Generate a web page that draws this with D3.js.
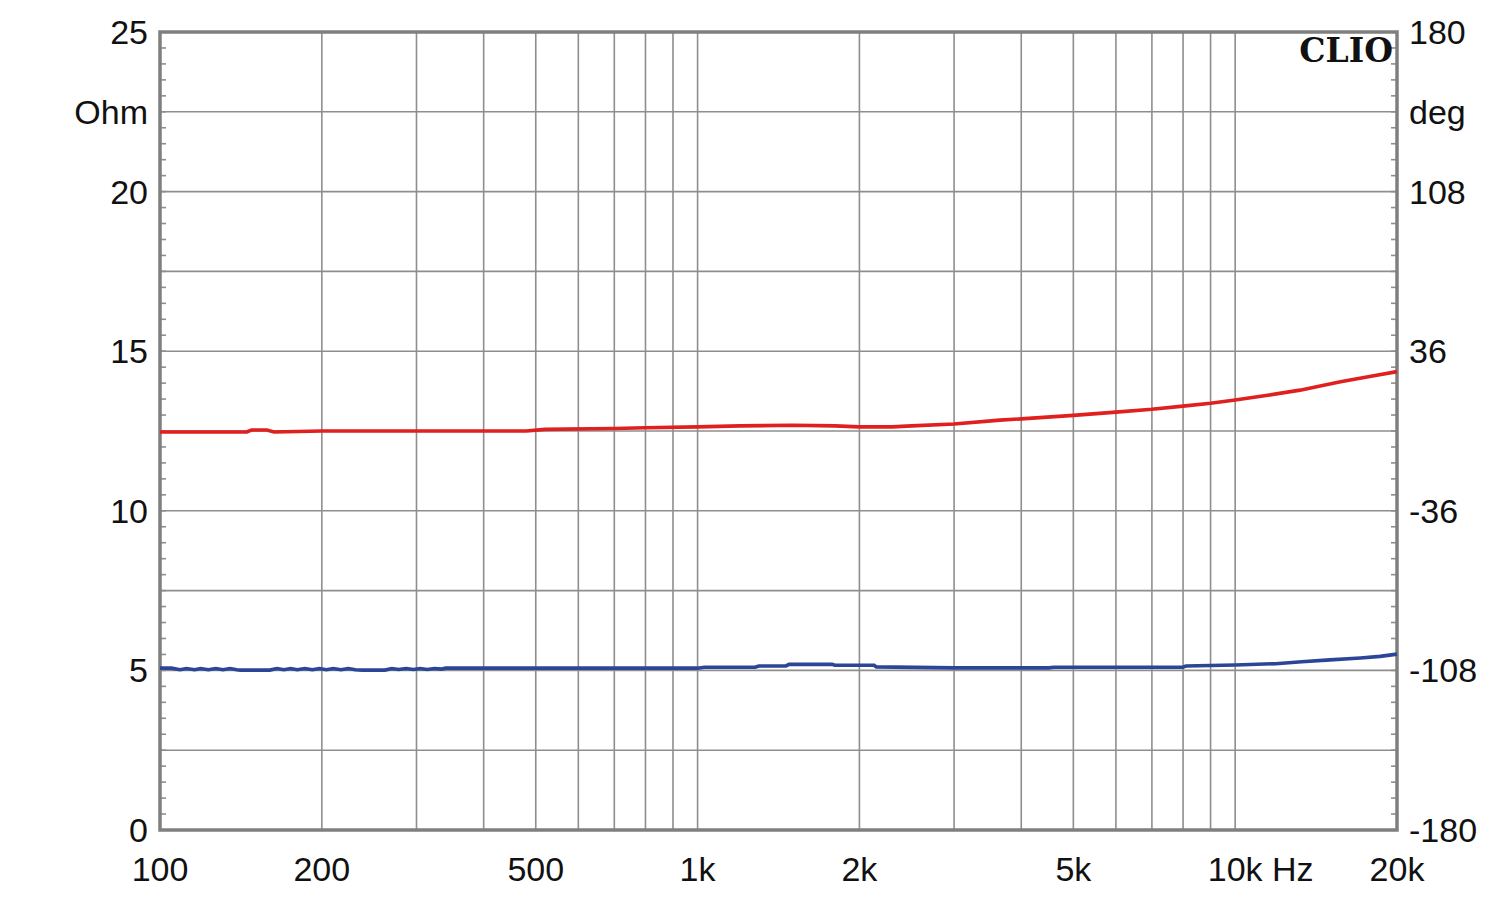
<!DOCTYPE html>
<html><head><meta charset="utf-8">
<script src="https://cdn.jsdelivr.net/npm/d3@7"></script>
<style>body{margin:0;background:#fff}svg{display:block}</style>
</head><body>
<svg id="c" width="1500" height="907"></svg>
<script>
const xTickFreqs = [100,200,500,1000,2000,5000,10000,20000];
const xTickLabels = ["100","200","500","1k","2k","5k","10k","20k"];
const xGridFreqs = [200,300,400,500,600,700,800,900,1000,2000,3000,4000,5000,6000,7000,8000,9000,10000];
const yLeftTicks = [0,5,10,15,20,25];
const yRightLabels = ["-180","-108","-36","36","108","180"];
const yGrid = [2.5,5,7.5,10,12.5,15,17.5,20,22.5];

const redFreq = [100,145,148,158,163,200,300,480,520,700,800,1000,1200,1500,1800,2000,2300,2500,3000,3650,4000,5000,6000,7000,8000,9000,10000,11500,13200,15700,18000,20000];
const redOhm  = [12.47,12.47,12.53,12.53,12.47,12.5,12.5,12.5,12.55,12.58,12.6,12.63,12.66,12.68,12.66,12.63,12.63,12.66,12.72,12.84,12.88,12.99,13.09,13.18,13.28,13.37,13.47,13.62,13.78,14.04,14.22,14.36];

const blueFreq = [100,105,109,112,116,119,123,127,131,135,139,141,160,165,170,175,180,186,192,198,204,210,217,224,231,238,262,270,278,287,296,305,314,324,334,340,500,1000,1030,1280,1300,1460,1480,1780,1800,2130,2150,3000,4500,4600,8000,8100,10000,11900,13300,15000,17100,18600,20000];
const blueOhm  = [5.07,5.07,5.02,5.06,5.02,5.06,5.02,5.06,5.02,5.06,5.02,5.01,5.01,5.06,5.02,5.06,5.02,5.06,5.02,5.06,5.02,5.06,5.02,5.06,5.02,5.01,5.01,5.06,5.03,5.06,5.03,5.06,5.03,5.06,5.04,5.07,5.07,5.07,5.1,5.1,5.14,5.14,5.19,5.19,5.16,5.16,5.11,5.08,5.08,5.1,5.1,5.14,5.17,5.21,5.27,5.33,5.39,5.44,5.51];

const L=160,R=1397,T=32,B=830;
const svg=d3.select("#c");
const x=d3.scaleLog().domain([100,20000]).range([L,R]);
const y=d3.scaleLinear().domain([0,25]).range([B,T]);
const yR=d3.scaleLinear().domain([-180,180]).range([B,T]);
const grid="#8e8e8e", font="'Liberation Sans', Arial, sans-serif";

// grid
svg.append("g").selectAll("line").data(xGridFreqs).join("line")
  .attr("x1",d=>x(d)).attr("x2",d=>x(d)).attr("y1",T).attr("y2",B)
  .attr("stroke",grid).attr("stroke-width",1.6);
svg.append("g").selectAll("line").data(yGrid).join("line")
  .attr("y1",d=>y(d)).attr("y2",d=>y(d)).attr("x1",L).attr("x2",R)
  .attr("stroke",grid).attr("stroke-width",1.6);

// minor ticks
const minor=d3.range(0.5,25,0.5);
svg.append("g").selectAll("line").data(minor).join("line")
  .attr("x1",L).attr("x2",L+6).attr("y1",d=>y(d)).attr("y2",d=>y(d))
  .attr("stroke",grid).attr("stroke-width",1.6);
svg.append("g").selectAll("line").data(minor).join("line")
  .attr("x1",R-6).attr("x2",R).attr("y1",d=>y(d)).attr("y2",d=>y(d))
  .attr("stroke",grid).attr("stroke-width",1.6);

// frame
svg.append("rect").attr("x",L).attr("y",T).attr("width",R-L).attr("height",B-T)
  .attr("fill","none").attr("stroke","#7f7f7f").attr("stroke-width",3.5);

// curves
const line=d3.line().x(d=>x(d[0])).y(d=>y(d[1]));
svg.append("path").datum(redFreq.map((f,i)=>[f,redOhm[i]])).attr("d",line)
  .attr("fill","none").attr("stroke","#e01f1f").attr("stroke-width",3.6);
svg.append("path").datum(blueFreq.map((f,i)=>[f,blueOhm[i]])).attr("d",line)
  .attr("fill","none").attr("stroke","#2b4597").attr("stroke-width",3.6);

// labels
const txt=(g)=>g.attr("font-family",font).attr("font-size",34).attr("fill","#111");
svg.append("g").selectAll("text").data(yLeftTicks).join("text").call(txt)
  .attr("x",148).attr("y",d=>y(d)).attr("dy","0.35em").attr("text-anchor","end").text(d=>d);
svg.append("text").call(txt).attr("x",148).attr("y",y(22.5)).attr("dy","0.35em").attr("text-anchor","end").text("Ohm");
svg.append("g").selectAll("text").data(yRightLabels).join("text").call(txt)
  .attr("x",1409).attr("y",(d,i)=>yR(+d)).attr("dy","0.35em").text(d=>d);
svg.append("text").call(txt).attr("x",1409).attr("y",yR(144)).attr("dy","0.35em").text("deg");
svg.append("g").selectAll("text").data(xTickFreqs).join("text").call(txt)
  .attr("x",d=>x(d)).attr("y",869).attr("dy","0.35em").attr("text-anchor","middle").text((d,i)=>xTickLabels[i]);
svg.append("text").call(txt).attr("x",1272).attr("y",869).attr("dy","0.35em").text("Hz");

svg.append("text").attr("x",1393).attr("y",62).attr("text-anchor","end")
  .attr("font-family","'DejaVu Serif', serif").attr("font-weight","bold").attr("font-size",33)
  .attr("fill","#111").text("CLIO");
</script>
</body></html>
